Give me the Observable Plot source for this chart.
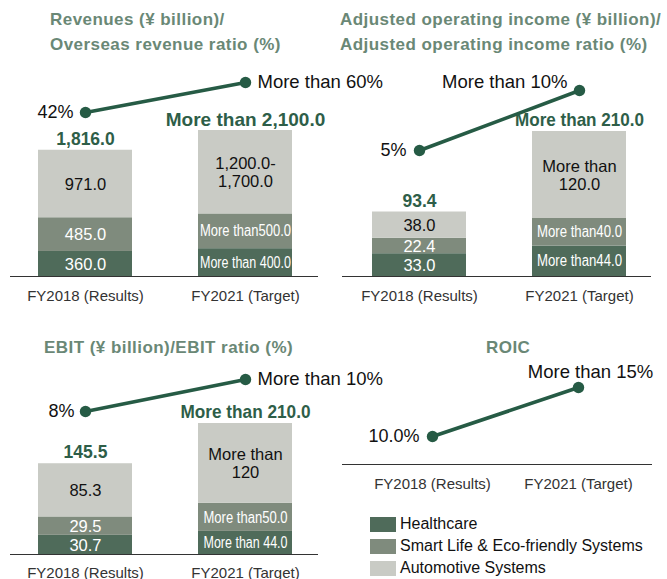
<!DOCTYPE html>
<html>
<head>
<meta charset="utf-8">
<script src="https://cdn.jsdelivr.net/npm/d3@7"></script>
<script src="https://cdn.jsdelivr.net/npm/@observablehq/plot@0.6"></script>
<style>
  body { margin: 0; background: #fff; font-family: "Liberation Sans", Arial, Helvetica, sans-serif; }
  #root { position: relative; width: 667px; height: 579px; overflow: hidden; background: #fff; }
  .panel { position: absolute; }
  .panel svg { position: absolute; left: 0; top: 0; overflow: visible; }
  .title { position: absolute; color: #6a8876; font-weight: bold; font-size: 17px; letter-spacing: 0.45px; line-height: 25px; white-space: nowrap; }
  .legend { position: absolute; left: 370px; top: 513px; font-size: 16px; color: #111; }
  .legend .row { height: 22px; display: flex; align-items: center; }
  .legend .sw { width: 26px; height: 15px; margin-right: 4px; }
</style>
</head>
<body>
<div id="root"></div>
<script>
// ---------- data ----------
const years = ["FY2018 (Results)", "FY2021 (Target)"];
const segments = ["Healthcare", "Smart Life & Eco-friendly Systems", "Automotive Systems"];
const segmentColors = ["#4f6b5a", "#7f8b7d", "#c9cbc5"];
const segmentTextColors = ["#ffffff", "#ffffff", "#111111"];

// Revenues (¥ billion) / Overseas revenue ratio (%)
const revenueHealthcare = [360.0, 400.0];
const revenueSmartLife = [485.0, 500.0];
const revenueAutomotive = [971.0, 1200.0];
const revenueTotal = [1816.0, 2100.0];
const revenueHealthcareLabels = ["360.0", "More than 400.0"];
const revenueSmartLifeLabels = ["485.0", "More than500.0"];
const revenueAutomotiveLabels = ["971.0", "1,200.0-\n1,700.0"];
const revenueTotalLabels = ["1,816.0", "More than 2,100.0"];
const overseasRatio = [42, 60];
const overseasRatioLabels = ["42%", "More than 60%"];

// Adjusted operating income (¥ billion) / ratio (%)
const aoiHealthcare = [33.0, 44.0];
const aoiSmartLife = [22.4, 40.0];
const aoiAutomotive = [38.0, 126.0];
const aoiTotal = [93.4, 210.0];
const aoiHealthcareLabels = ["33.0", "More than44.0"];
const aoiSmartLifeLabels = ["22.4", "More than40.0"];
const aoiAutomotiveLabels = ["38.0", "More than\n120.0"];
const aoiTotalLabels = ["93.4", "More than 210.0"];
const aoiRatio = [5, 10];
const aoiRatioLabels = ["5%", "More than 10%"];

// EBIT (¥ billion) / EBIT ratio (%)
const ebitHealthcare = [30.7, 37.0];
const ebitSmartLife = [29.5, 45.0];
const ebitAutomotive = [85.3, 128.0];
const ebitTotal = [145.5, 210.0];
const ebitHealthcareLabels = ["30.7", "More than 44.0"];
const ebitSmartLifeLabels = ["29.5", "More than50.0"];
const ebitAutomotiveLabels = ["85.3", "More than\n120"];
const ebitTotalLabels = ["145.5", "More than 210.0"];
const ebitRatio = [8, 10];
const ebitRatioLabels = ["8%", "More than 10%"];

// ROIC (%)
const roic = [10.0, 15.0];
const roicLabels = ["10.0%", "More than 15%"];

// ---------- helpers ----------
const FONT = '"Liberation Sans", Arial, Helvetica, sans-serif';
const GREEN = "#2e5e48";
const LINE = "#265b45";
const root = document.getElementById("root");

function segmentRows(values, labels) {
  const rows = [];
  years.forEach((year, i) => segments.forEach((segment, j) => rows.push({
    year, segment, value: values[j][i], label: labels[j][i],
    fill: segmentColors[j], textFill: segmentTextColors[j]
  })));
  return rows;
}
function totalRows(values, labels) {
  return years.map((year, i) => ({year, total: values[i], label: labels[i]}));
}
function ratioRows(values, labels) {
  return years.map((year, i) => ({year, value: values[i], label: labels[i]}));
}
const isCondensed = (s) => s.startsWith("More than") && !s.includes("\n");

function makePanel(left, top, width, height) {
  const div = document.createElement("div");
  div.className = "panel";
  Object.assign(div.style, {left: left + "px", top: top + "px", width: width + "px", height: height + "px"});
  root.appendChild(div);
  return div;
}
function addTitle(text, left, top) {
  const t = document.createElement("div");
  t.className = "title";
  t.innerHTML = text;
  t.style.left = left + "px";
  t.style.top = top + "px";
  root.appendChild(t);
}
function condense(svg, tag, length) {
  svg.querySelectorAll(`g[aria-description="${tag}"] text`).forEach((t) => {
    if (t.textContent.startsWith("More than") && t.querySelectorAll("tspan").length === 0) {
      t.setAttribute("textLength", length);
      t.setAttribute("lengthAdjust", "spacingAndGlyphs");
    }
  });
}
const baseStyle = {fontFamily: FONT, fontSize: "15px", color: "#333", background: "transparent", overflow: "visible"};

function drawBars(div, cfg) {
  const {width, height, xRange, marginTop, marginBottom, marginLeft, marginRight, rows, totals, segLength, totalLength, bigTotal} = cfg;
  const svg = Plot.plot({
    width, height, marginTop, marginBottom, marginLeft, marginRight,
    style: baseStyle,
    x: {type: "band", domain: years, range: xRange, paddingInner: 0.4125, paddingOuter: 0, label: null,
        tickSize: 0, tickPadding: cfg.tickPadding ?? 14},
    y: {domain: [0, d3.max(totals, (d) => d.total)], axis: null},
    color: {type: "identity"},
    marks: [
      Plot.barY(rows, Plot.stackY({x: "year", y: "value", z: "segment", fill: "fill"})),
      Plot.text(rows, Plot.stackY({x: "year", y: "value", z: "segment",
        text: (d) => isCondensed(d.label) ? null : d.label, fill: "textFill", fontSize: 16.5, lineHeight: 1.08})),
      Plot.text(rows, Plot.stackY({x: "year", y: "value", z: "segment",
        text: (d) => isCondensed(d.label) ? d.label : null, fill: "textFill", fontSize: 16, ariaDescription: "condensed"})),
      Plot.text(totals, {x: "year", y: "total", text: "label", dy: -11, fill: GREEN, fontWeight: "bold",
        fontSize: (d) => d.year === years[0] ? 17.5 : bigTotal, ariaDescription: "totals"}),
      Plot.ruleY([0], {stroke: "#333", strokeWidth: 1})
    ]
  });
  div.appendChild(svg);
  condense(svg, "condensed", segLength);
  if (totalLength) condense(svg, "totals", totalLength);
  return svg;
}

function drawLine(div, cfg) {
  const {width, height, x, yRange, rows, first, second, extra} = cfg;
  const svg = Plot.plot({
    width, height, margin: 0, ...(cfg.margins || {}),
    style: baseStyle,
    x: {...x, label: null, tickSize: 0, tickPadding: 14, axis: cfg.axis ? "bottom" : null},
    y: {domain: d3.extent(rows, (d) => d.value), range: yRange, axis: null},
    marks: [
      ...(extra || []),
      Plot.line(rows, {x: "year", y: "value", stroke: LINE, strokeWidth: 3.6}),
      Plot.dot(rows, {x: "year", y: "value", r: 5.7, fill: LINE}),
      Plot.text(rows, {filter: (d) => d.year === years[0], x: "year", y: "value", text: "label",
        fill: "#111", fontSize: 18, textAnchor: "end", dx: first.dx, dy: first.dy}),
      Plot.text(rows, {filter: (d) => d.year === years[1], x: "year", y: "value", text: "label",
        fill: "#111", fontSize: 18.5, textAnchor: second.anchor, dx: second.dx, dy: second.dy})
    ]
  });
  div.appendChild(svg);
  return svg;
}

// ---------- Panel 1: Revenues ----------
addTitle("Revenues (¥ billion)/<br>Overseas revenue ratio (%)", 50, 7);
const p1 = makePanel(0, 0, 333, 300);
drawBars(p1, {
  width: 333, height: 300, xRange: [38, 292], marginTop: 130, marginBottom: 24, marginLeft: 10, marginRight: 15,
  rows: segmentRows([revenueHealthcare, revenueSmartLife, revenueAutomotive],
                    [revenueHealthcareLabels, revenueSmartLifeLabels, revenueAutomotiveLabels]),
  totals: totalRows(revenueTotal, revenueTotalLabels), segLength: 91, bigTotal: 19
});
drawLine(p1, {
  width: 333, height: 300,
  x: {type: "band", domain: years, range: [38, 292], paddingInner: 0.4125, paddingOuter: 0},
  yRange: [112, 82], rows: ratioRows(overseasRatio, overseasRatioLabels),
  first: {dx: -12, dy: 0}, second: {anchor: "start", dx: 12, dy: 0}
});

// ---------- Panel 2: Adjusted operating income ----------
addTitle("Adjusted operating income (¥ billion)/<br>Adjusted operating income ratio (%)", 340, 7);
const p2 = makePanel(333, 0, 334, 300);
drawBars(p2, {
  width: 334, height: 300, xRange: [38, 293], marginTop: 131, marginBottom: 24, marginLeft: 9, marginRight: 16,
  rows: segmentRows([aoiHealthcare, aoiSmartLife, aoiAutomotive],
                    [aoiHealthcareLabels, aoiSmartLifeLabels, aoiAutomotiveLabels]),
  totals: totalRows(aoiTotal, aoiTotalLabels), segLength: 85, totalLength: 129, bigTotal: 18.5
});
drawLine(p2, {
  width: 334, height: 300,
  x: {type: "band", domain: years, range: [38, 293], paddingInner: 0.4125, paddingOuter: 0},
  yRange: [150, 90], rows: ratioRows(aoiRatio, aoiRatioLabels),
  first: {dx: -13, dy: 0}, second: {anchor: "end", dx: -12, dy: -8}
});

// ---------- Panel 3: EBIT ----------
addTitle("EBIT (¥ billion)/EBIT ratio (%)", 44, 335);
const p3 = makePanel(0, 300, 333, 279);
drawBars(p3, {
  width: 333, height: 279, xRange: [37, 292], marginTop: 123, marginBottom: 25, marginLeft: 10, marginRight: 15,
  rows: segmentRows([ebitHealthcare, ebitSmartLife, ebitAutomotive],
                    [ebitHealthcareLabels, ebitSmartLifeLabels, ebitAutomotiveLabels]),
  totals: totalRows(ebitTotal, ebitTotalLabels), segLength: 84, totalLength: 130, bigTotal: 18.5, tickPadding: 12.5
});
drawLine(p3, {
  width: 333, height: 279,
  x: {type: "band", domain: years, range: [37, 292], paddingInner: 0.4125, paddingOuter: 0},
  yRange: [111, 79], rows: ratioRows(ebitRatio, ebitRatioLabels),
  first: {dx: -11, dy: 0}, second: {anchor: "start", dx: 12, dy: 0}
});

// ---------- Panel 4: ROIC ----------
addTitle("ROIC", 486, 335);
const p4 = makePanel(333, 300, 334, 279);
drawLine(p4, {
  width: 334, height: 279, axis: true,
  margins: {marginLeft: 9, marginRight: 16, marginBottom: 115, marginTop: 0},
  x: {type: "point", domain: years, range: [99, 245], padding: 0},
  yRange: [136, 87], rows: ratioRows(roic, roicLabels),
  extra: [Plot.frame({anchor: "bottom", stroke: "#333"})],
  first: {dx: -13, dy: 0}, second: {anchor: "middle", dx: 12, dy: -15}
});

// ---------- Legend ----------
const legend = document.createElement("div");
legend.className = "legend";
segments.forEach((s, i) => {
  const row = document.createElement("div");
  row.className = "row";
  row.innerHTML = `<span class="sw" style="background:${segmentColors[i]}"></span><span>${s.replace("&", "&amp;")}</span>`;
  legend.appendChild(row);
});
root.appendChild(legend);
</script>
</body>
</html>
